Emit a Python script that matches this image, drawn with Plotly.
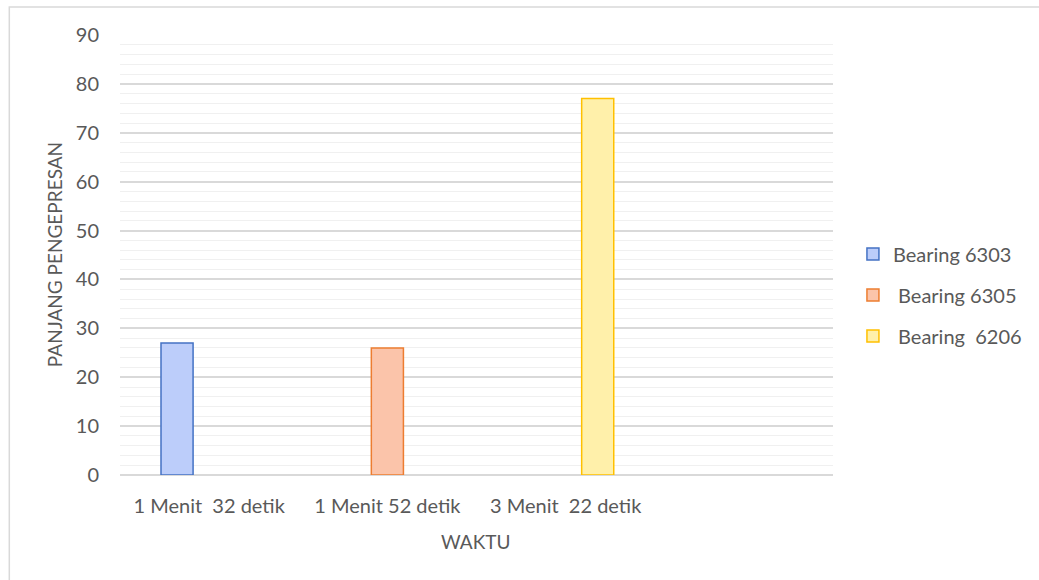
import plotly.graph_objects as go

categories = ["1 Menit  32 detik", "1 Menit 52 detik", "3 Menit  22 detik", " "]
series_names = ["Bearing 6303", " Bearing 6305", " Bearing  6206"]
bearing_6303 = [27, None, None, None]
bearing_6305 = [None, 26, None, None]
bearing_6206 = [None, None, 77, None]
fill_colors = ["#bccdfa", "#fbc4aa", "#fff0aa"]
line_colors = ["#4472c4", "#ed7d31", "#ffc000"]

FONT = "Lato, 'Open Sans', sans-serif"
TXT = "#595959"

W, H = 1039, 580
pl, pr, pt, pb = 120, 204, 35, 105
pw, ph = W - pl - pr, H - pt - pb


def px_x(v):
    return (v - pl) / pw


def px_y(v):
    return (H - pb - v) / ph


fig = go.Figure()
for i, (name, vals) in enumerate(zip(series_names, [bearing_6303, bearing_6305, bearing_6206])):
    fig.add_trace(go.Bar(
        x=categories, y=vals, name=name, legendgroup=f"g{i}",
        marker=dict(color=fill_colors[i], line=dict(color=line_colors[i], width=1.5)),
    ))

fig.update_layout(
    width=W, height=H,
    margin=dict(l=pl, r=pr, t=pt, b=pb),
    paper_bgcolor="white", plot_bgcolor="white",
    barmode="group", bargap=0.46, bargroupgap=0,
    font=dict(family=FONT, size=20, color=TXT),
    showlegend=True,
    legend=dict(x=px_x(855), xanchor="left", y=px_y(295), yanchor="middle",
                font=dict(size=20, color=TXT), tracegroupgap=12,
                bgcolor="rgba(0,0,0,0)"),
    xaxis=dict(showgrid=False, showline=False, zeroline=False,
               tickfont=dict(size=20, color=TXT), ticks="", ticklabelstandoff=17,
               fixedrange=True),
    yaxis=dict(range=[0, 90], dtick=10, showgrid=True, gridcolor="#d9d9d9", gridwidth=1.5,
               minor=dict(dtick=2, showgrid=True, gridcolor="#f0f0f0", gridwidth=1),
               zeroline=True, zerolinecolor="#d9d9d9", zerolinewidth=2,
               showline=False, ticks="", ticklabelstandoff=20,
               tickfont=dict(size=20, color=TXT)),
    annotations=[
        dict(text="WAKTU", xref="paper", yref="paper", x=px_x(477), y=px_y(541),
             xanchor="center", yanchor="middle", showarrow=False,
             font=dict(size=19, color=TXT)),
        dict(text="PANJANG PENGEPRESAN", textangle=-90, xref="paper", yref="paper",
             x=px_x(54), y=px_y(255), xanchor="center", yanchor="middle", showarrow=False,
             font=dict(size=19, color=TXT)),
    ],
)
fig.add_shape(type="rect", xref="paper", yref="paper",
              x0=px_x(9), x1=px_x(1100), y0=px_y(640), y1=px_y(7),
              line=dict(color="#d9d9d9", width=1.5), fillcolor="rgba(0,0,0,0)", layer="below")

fig.write_html("out.html")
